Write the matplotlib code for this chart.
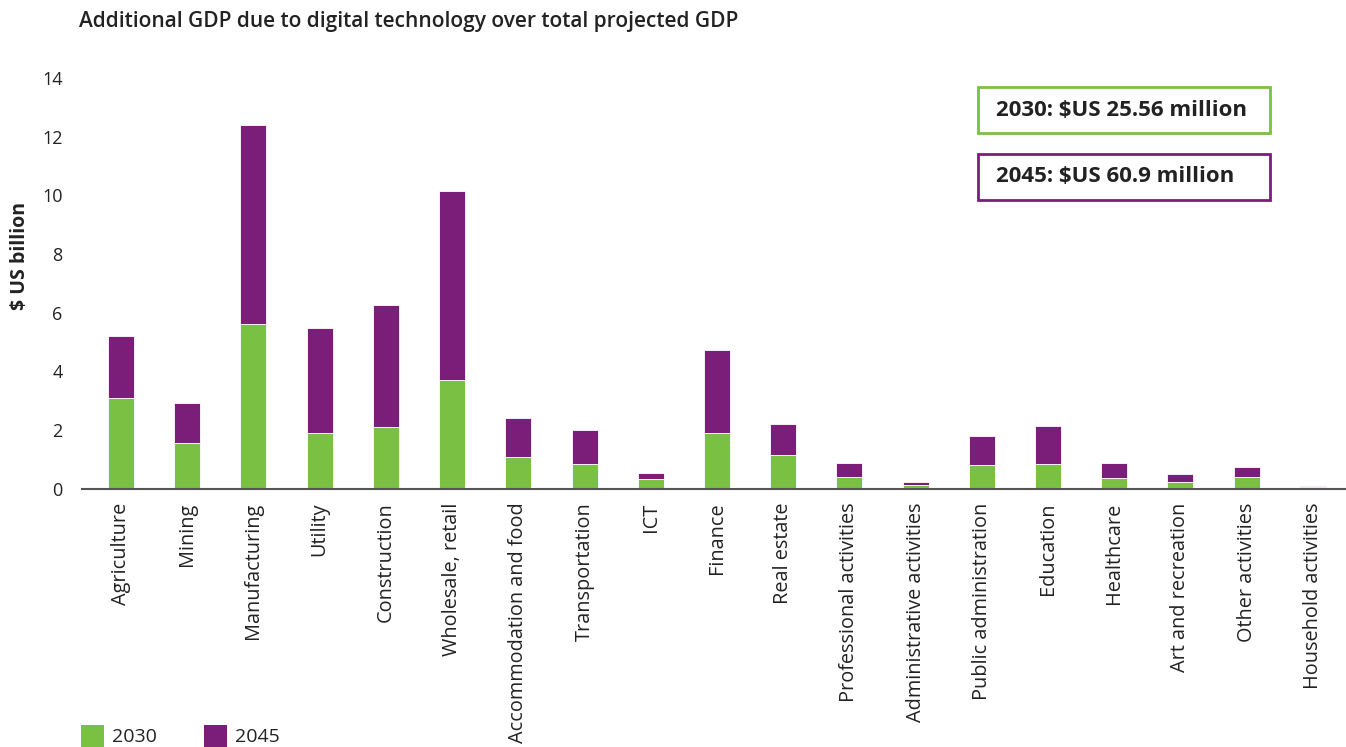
import matplotlib
matplotlib.use("Agg")
import matplotlib.pyplot as plt
from matplotlib.patches import Rectangle
import numpy as np

# sectors along the x axis
sectors = ["Agriculture", "Mining", "Manufacturing", "Utility", "Construction",
           "Wholesale, retail", "Accommodation and food", "Transportation", "ICT",
           "Finance", "Real estate", "Professional activities",
           "Administrative activities", "Public administration", "Education",
           "Healthcare", "Art and recreation", "Other activities",
           "Household activities"]

# $US billion
gdp_2030 = [3.10, 1.54, 5.62, 1.88, 2.10, 3.71, 1.08, 0.82, 0.33, 1.88,
            1.13, 0.39, 0.12, 0.80, 0.82, 0.36, 0.22, 0.39, 0.04]
gdp_2045 = [2.10, 1.38, 6.79, 3.61, 4.16, 6.44, 1.31, 1.19, 0.19, 2.84,
            1.06, 0.47, 0.09, 0.98, 1.32, 0.52, 0.28, 0.34, 0.05]

years = ["2030", "2045"]
totals = ["2030: $US 25.56 million", "2045: $US 60.9 million"]

green = '#7AC143'
purple = '#7A1E7A'
plt.rcParams['font.family'] = ['Open Sans', 'DejaVu Sans']

W, H = 1346, 747
fig = plt.figure(figsize=(W / 100, H / 100), dpi=100)
ax = fig.add_axes([82 / W, 0.346, 1 - 82 / W, 0.5496])

x = np.arange(len(sectors))
ax.bar(x, gdp_2030, width=0.393, color=green, edgecolor='white', linewidth=0.6)
ax.bar(x, gdp_2045, width=0.393, bottom=gdp_2030, color=purple,
       edgecolor='white', linewidth=0.6)

ax.set_xlim(-0.589, 18.50)
ax.set_ylim(0, 14)
ax.set_yticks(range(0, 15, 2))
ax.set_xticks(x)
ax.set_xticklabels(sectors, rotation=90, fontsize=14.3, color='#222222')
ax.tick_params(axis='y', labelsize=13, length=0, pad=14, colors='#222222')
ax.tick_params(axis='x', length=0, pad=10)
for s in ['top', 'right', 'left']:
    ax.spines[s].set_visible(False)
ax.spines['bottom'].set_color('#555555')
ax.spines['bottom'].set_linewidth(1.5)

ax.set_ylabel("$ US billion", fontsize=14, fontweight='bold', color='#222222')
ax.yaxis.set_label_coords(-0.041, 0.567)

fig.text(79 / W, 1 - 21 / H, "Additional GDP due to digital technology over total projected GDP",
         fontsize=15, fontweight='semibold', color='#222222', va='center', ha='left')

# total boxes, top right
for i, (label, col) in enumerate(zip(totals, [green, purple])):
    top = 87 + i * 67
    fig.add_artist(Rectangle((978 / W, 1 - (top + 46) / H), 292 / W, 46 / H,
                             transform=fig.transFigure, fill=False, edgecolor=col, linewidth=2))
    fig.text(996 / W, 1 - (top + 23) / H, label, fontsize=16, fontweight='bold',
             color='#222222', va='center', ha='left')

# legend bottom left
for i, (yr, col) in enumerate(zip(years, [green, purple])):
    x0 = 81 + i * 123
    fig.add_artist(Rectangle((x0 / W, 0), 23 / W, 22 / H,
                             transform=fig.transFigure, facecolor=col, edgecolor='none'))
    fig.text((x0 + 31) / W, 1 - 737 / H, yr, fontsize=14, color='#222222',
             va='center', ha='left')

fig.savefig("out.png", dpi=100)
